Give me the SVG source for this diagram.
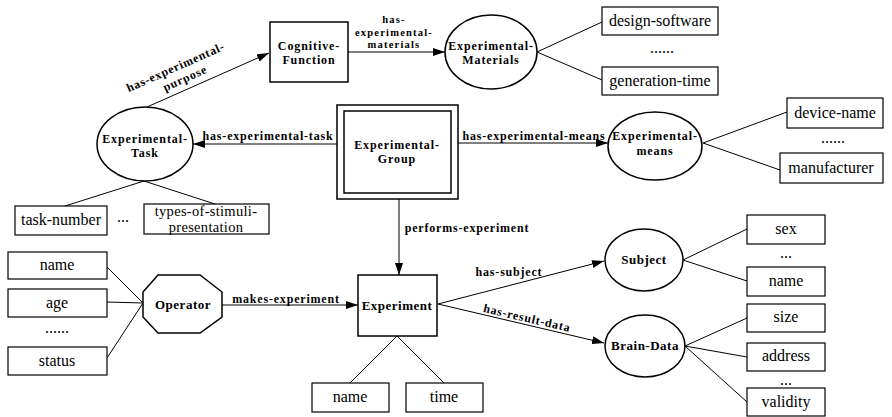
<svg xmlns="http://www.w3.org/2000/svg" width="892" height="417" viewBox="0 0 892 417">
<defs>
<marker id="arr" viewBox="0 0 12 8" refX="12" refY="4" markerWidth="12" markerHeight="8" markerUnits="userSpaceOnUse" orient="auto">
<path d="M0,0 L12,4 L0,8 Z" fill="#000"/>
</marker>
<style>
.n{fill:#fff;stroke:#000;stroke-width:1.5}
.a{fill:#fff;stroke:#000;stroke-width:1.2}
.c{stroke:#000;stroke-width:1;fill:none}
.ca{stroke:#000;stroke-width:1;fill:none;marker-end:url(#arr)}
.nt{font-family:"Liberation Serif","Times New Roman",serif;font-weight:bold;font-size:13px;letter-spacing:0.5px;text-anchor:middle}
.nt2{font-family:"Liberation Serif","Times New Roman",serif;font-weight:bold;font-size:12px;letter-spacing:0.9px;text-anchor:middle}
.at{font-family:"Liberation Serif","Times New Roman",serif;font-size:16px;text-anchor:middle}
.at2{font-family:"Liberation Serif","Times New Roman",serif;font-size:14.5px;letter-spacing:0.3px;text-anchor:middle}
.lt{font-family:"Liberation Serif","Times New Roman",serif;font-weight:bold;font-size:12px;letter-spacing:0.8px;text-anchor:middle}
.lt2{font-family:"Liberation Serif","Times New Roman",serif;font-weight:bold;font-size:10.5px;letter-spacing:1.2px;text-anchor:middle}
</style>
</defs>
<rect width="892" height="417" fill="#fff"/>
<g id="connectors">
<line class="ca" x1="147" y1="107" x2="269" y2="53"/>
<line class="ca" x1="348" y1="52" x2="445" y2="52"/>
<line class="ca" x1="337" y1="144" x2="193" y2="144"/>
<line class="ca" x1="458" y1="143" x2="608" y2="143"/>
<line class="ca" x1="399" y1="199" x2="399" y2="275"/>
<line class="ca" x1="222" y1="305" x2="358" y2="305"/>
<line class="ca" x1="438" y1="304" x2="604" y2="261"/>
<line class="ca" x1="438" y1="304" x2="604" y2="343"/>
<line class="c" x1="537" y1="52" x2="602" y2="22"/>
<line class="c" x1="537" y1="52" x2="602" y2="80"/>
<line class="c" x1="703" y1="143" x2="787" y2="112"/>
<line class="c" x1="703" y1="143" x2="780" y2="170"/>
<line class="c" x1="144" y1="181" x2="65" y2="206"/>
<line class="c" x1="144" y1="181" x2="218" y2="205"/>
<line class="c" x1="107" y1="267" x2="143" y2="303"/>
<line class="c" x1="107" y1="302" x2="143" y2="303"/>
<line class="c" x1="107" y1="358" x2="143" y2="303"/>
<line class="c" x1="397" y1="336" x2="350" y2="383"/>
<line class="c" x1="397" y1="336" x2="444" y2="383"/>
<line class="c" x1="683" y1="260" x2="747" y2="229"/>
<line class="c" x1="683" y1="260" x2="747" y2="281"/>
<line class="c" x1="685" y1="346" x2="747" y2="318"/>
<line class="c" x1="685" y1="346" x2="747" y2="357"/>
<line class="c" x1="685" y1="346" x2="747" y2="402"/>
<g transform="translate(176,68) rotate(-24)">
<text class="lt" x="0" y="3">has-experimental-</text>
<text class="lt" x="4" y="17">purpose</text>
</g>
<text class="lt2" x="394" y="23">has-</text>
<text class="lt2" x="394" y="35.5">experimental-</text>
<text class="lt2" x="394" y="48">materials</text>
<text class="lt" x="268" y="140">has-experimental-task</text>
<text class="lt" x="534" y="140">has-experimental-means</text>
<text class="lt" x="467" y="232">performs-experiment</text>
<text class="lt" x="286" y="303">makes-experiment</text>
<text class="lt" x="509" y="276">has-subject</text>
<text class="lt" transform="translate(527,318) rotate(13)" x="0" y="4">has-result-data</text>
</g>
<g id="cognitive-function">
<rect class="n" x="270" y="22" width="78" height="60"/>
<text class="nt2" x="309" y="50">Cognitive-</text>
<text class="nt2" x="309" y="64">Function</text>
</g>
<g id="experimental-materials">
<ellipse class="n" cx="491" cy="52" rx="46" ry="37"/>
<text class="nt2" x="491" y="50">Experimental-</text>
<text class="nt2" x="491" y="64">Materials</text>
</g>
<g id="experimental-group">
<rect class="n" x="337" y="105" width="121" height="94"/>
<rect class="n" x="344" y="111" width="107" height="82"/>
<text class="nt2" x="397" y="149">Experimental-</text>
<text class="nt2" x="397" y="163">Group</text>
</g>
<g id="experimental-task">
<ellipse class="n" cx="145" cy="144" rx="48" ry="37"/>
<text class="nt2" x="145" y="143">Experimental-</text>
<text class="nt2" x="145" y="157">Task</text>
</g>
<g id="experimental-means">
<ellipse class="n" cx="655" cy="146" rx="47" ry="34"/>
<text class="nt2" x="655" y="140">Experimental-</text>
<text class="nt2" x="655" y="155">means</text>
</g>
<g id="experiment">
<rect class="n" x="358" y="275" width="79" height="61"/>
<text class="nt" x="397" y="310">Experiment</text>
</g>
<g id="operator">
<polygon class="n" points="158,275 200,275 222,292 222,317 200,333 158,333 143,317 143,292"/>
<text class="nt" x="183" y="309">Operator</text>
</g>
<g id="subject">
<ellipse class="n" cx="644" cy="260" rx="39" ry="31"/>
<text class="nt" x="644" y="264">Subject</text>
</g>
<g id="brain-data">
<ellipse class="n" cx="645" cy="346" rx="40" ry="31"/>
<text class="nt" x="645" y="350">Brain-Data</text>
</g>
<g id="design-software"><rect class="a" x="602" y="7" width="116" height="28"/><text class="at" x="660" y="26">design-software</text></g>
<text class="at" x="662" y="53">......</text>
<g id="generation-time"><rect class="a" x="602" y="67" width="116" height="28"/><text class="at" x="660" y="86">generation-time</text></g>
<g id="device-name"><rect class="a" x="787" y="98" width="96" height="30"/><text class="at" x="835" y="118">device-name</text></g>
<text class="at" x="833" y="143">......</text>
<g id="manufacturer"><rect class="a" x="780" y="153" width="103" height="30"/><text class="at" x="831" y="173">manufacturer</text></g>
<g id="task-number"><rect class="a" x="15" y="206" width="92" height="29"/><text class="at" x="61" y="225">task-number</text></g>
<text class="at" x="123" y="222">...</text>
<g id="types-of-stimuli-presentation"><rect class="a" x="144" y="204" width="125" height="30"/><text class="at2" x="206" y="215.5">types-of-stimuli-</text><text class="at2" x="206" y="231.5">presentation</text></g>
<g id="op-name"><rect class="a" x="8" y="252" width="99" height="27"/><text class="at" x="57" y="270">name</text></g>
<g id="op-age"><rect class="a" x="8" y="289" width="99" height="28"/><text class="at" x="57" y="308">age</text></g>
<text class="at" x="57" y="333">......</text>
<g id="op-status"><rect class="a" x="8" y="347" width="99" height="28"/><text class="at" x="57" y="366">status</text></g>
<g id="exp-name"><rect class="a" x="312" y="383" width="77" height="29"/><text class="at" x="350" y="402">name</text></g>
<g id="exp-time"><rect class="a" x="406" y="383" width="77" height="29"/><text class="at" x="444" y="402">time</text></g>
<g id="sex"><rect class="a" x="747" y="215" width="78" height="29"/><text class="at" x="786" y="234">sex</text></g>
<text class="at" x="786" y="258">...</text>
<g id="subj-name"><rect class="a" x="747" y="267" width="78" height="29"/><text class="at" x="786" y="286">name</text></g>
<g id="size"><rect class="a" x="747" y="304" width="78" height="28"/><text class="at" x="786" y="322">size</text></g>
<g id="address"><rect class="a" x="747" y="343" width="78" height="28"/><text class="at" x="786" y="361">address</text></g>
<text class="at" x="786" y="385">...</text>
<g id="validity"><rect class="a" x="747" y="388" width="78" height="28"/><text class="at" x="786" y="407">validity</text></g>
</svg>
